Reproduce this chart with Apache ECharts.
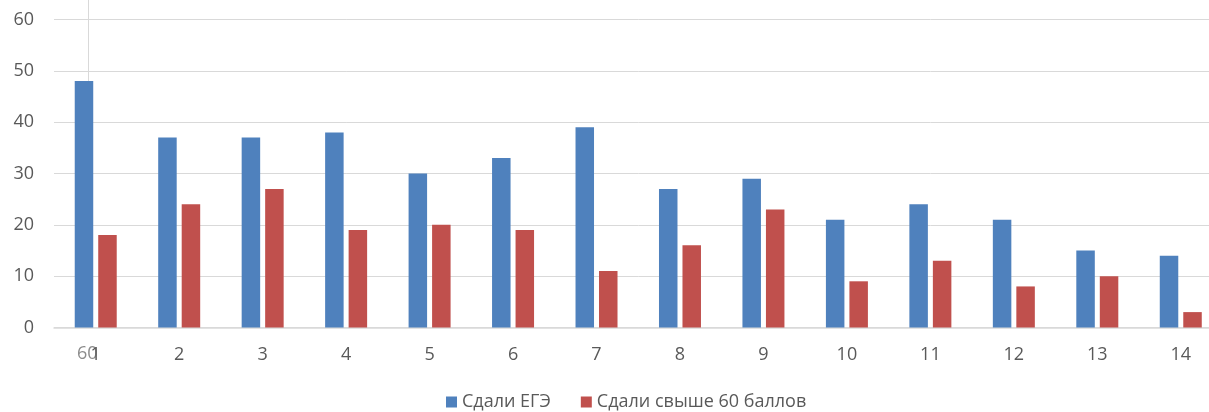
<!DOCTYPE html>
<html><head><meta charset="utf-8">
<script src="https://cdn.jsdelivr.net/npm/echarts@6/dist/echarts.min.js"></script>
<style>html,body{margin:0;padding:0;background:#fff;overflow:hidden;width:1209px;height:412px}#c{width:1228px;height:412px}</style>
</head><body><div id="c"></div>
<script>
const categories = ['1','2','3','4','5','6','7','8','9','10','11','12','13','14'];
const passed = [48,37,37,38,30,33,39,27,29,21,24,21,15,14];
const above60 = [18,24,27,19,20,19,11,16,23,9,13,8,10,3];
const seriesNames = ['Сдали ЕГЭ','Сдали свыше 60 баллов'];
const FONT = '"Open Sans", "Noto Sans", sans-serif';
const chart = echarts.init(document.getElementById('c'));
chart.setOption({
  animation:false,
  grid:{left:54,right:5.5,top:19.5,bottom:84.5},
  legend:{top:388,left:441,itemWidth:11,itemHeight:11,itemGap:30,icon:'rect',
    textStyle:{color:'#595959',fontSize:18,fontFamily:FONT},data:seriesNames},
  xAxis:{type:'category',data:categories,
    axisLine:{lineStyle:{color:'#d9d9d9',width:1.5}},axisTick:{show:false},
    axisLabel:{color:'#595959',fontSize:18,fontFamily:FONT,margin:18}},
  yAxis:{type:'value',min:0,max:60,interval:10,
    axisLine:{show:false},axisTick:{show:false},
    splitLine:{lineStyle:{color:'#d9d9d9'}},
    axisLabel:{color:'#595959',fontSize:18,fontFamily:FONT,margin:20}},
  graphic:[
    {type:'line',shape:{x1:88.5,y1:0,x2:88.5,y2:327},style:{stroke:'#d9d9d9',lineWidth:1},z:-1},
    {type:'text',left:77,top:345,z:-1,style:{text:'60',fill:'#8c8c8c',font:'18px '+FONT}}
  ],
  series:[
    {name:seriesNames[0],type:'bar',data:passed,barWidth:18.5,barGap:'27%',
     itemStyle:{color:'#4F81BD'}},
    {name:seriesNames[1],type:'bar',data:above60,barWidth:18.5,
     itemStyle:{color:'#C0504D'}}
  ]
});
</script></body></html>
